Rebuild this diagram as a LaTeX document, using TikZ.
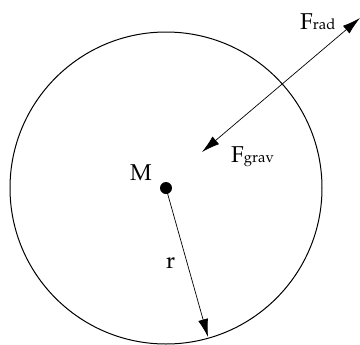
\documentclass[tikz,border=0pt]{standalone}
\usepackage[T1]{fontenc}
\usepackage{mathpazo}
\usetikzlibrary{arrows.meta}

\tikzset{
  lbl/.style={font=\fontsize{23}{27}\selectfont, inner sep=0pt, anchor=base west},
  force/.style={line width=0.7bp, {Latex[length=18bp,width=10bp]}-{Latex[length=18bp,width=10bp]}},
}
\newcommand{\subtxt}[1]{{\fontsize{15}{18}\selectfont #1}}

\begin{document}
\begin{tikzpicture}[x=1bp, y=-1bp, >={Latex[length=18bp,width=10bp]}]
    \useasboundingbox (0,0) rectangle (360,345);

    % planet of mass M
    \coordinate (O) at (166,188);
    \draw[line width=1bp] (O) circle[radius=156];
    \node[circle, fill, inner sep=0pt, minimum size=12bp] (mass) at (O) {};

    % radius
    \coordinate (rim) at (208,337);
    \draw[->, line width=0.7bp] (mass.center) -- (rim);

    % radial forces
    \coordinate (inner) at (202,152);
    \coordinate (outer) at (360,18);
    \draw[force] (inner) -- (outer);

    % labels
    \node[lbl] (lblM) at (130,180) {M};
    \node[lbl] (lblr) at (166,268) {r};
    \node[lbl] (lblgrav) at (231,162) {F\subtxt{grav}};
    \node[lbl] (lblrad) at (300,29) {F\subtxt{rad}};
\end{tikzpicture}
\end{document}
